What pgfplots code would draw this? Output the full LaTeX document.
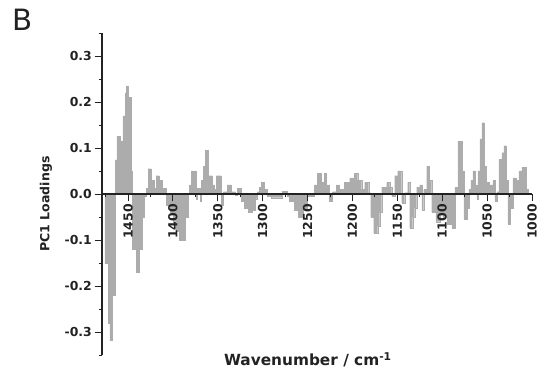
\documentclass[border=0pt]{standalone}
\usepackage{pgfplots}
\pgfplotsset{compat=1.18}
\usepackage{pgfplotstable}
\usepackage{fontspec}
\setmainfont{DejaVu Sans}
\definecolor{barcol}{RGB}{172,172,172}
\definecolor{txt}{RGB}{34,34,34}
\pgfplotstableread{
w v
1004.5 0.01
1006.7 0.058
1011.2 0.05
1014.5 0.03
1017.9 0.035
1021.2 -0.03
1024.6 -0.065
1026.8 0.03
1029.0 0.105
1031.3 0.09
1033.5 0.075
1036.9 0.005
1039.1 -0.015
1041.3 0.03
1043.6 0.02
1048.0 0.025
1051.4 0.06
1053.6 0.155
1055.8 0.12
1058.1 0.05
1060.3 -0.01
1061.4 0.02
1063.7 0.05
1065.9 0.03
1068.1 0.01
1070.4 -0.03
1072.6 -0.055
1075.9 0.05
1078.2 0.115
1082.6 0.015
1086.0 -0.075
1089.3 -0.065
1094.9 -0.05
1099.4 -0.04
1102.7 -0.06
1107.2 -0.04
1111.7 0.03
1115.0 0.06
1117.3 0.01
1120.6 -0.035
1122.8 0.02
1125.1 0.015
1128.4 -0.03
1130.7 -0.05
1132.9 -0.075
1136.2 0.025
1138.5 0.003
1141.8 -0.02
1145.2 0.05
1149.6 0.04
1153.0 -0.005
1156.3 0.015
1158.6 0.025
1161.9 0.015
1167.5 -0.04
1169.7 -0.07
1172.0 -0.085
1176.4 -0.05
1179.8 0.003
1182.0 0.025
1186.5 0.01
1189.8 0.03
1194.3 0.045
1197.7 0.035
1203.2 0.025
1208.8 0.01
1214.4 0.02
1217.8 0.005
1222.2 -0.015
1225.6 0.02
1228.9 0.045
1231.1 0.025
1234.5 0.045
1239.0 0.02
1242.3 -0.005
1250.1 -0.03
1254.6 -0.05
1260.2 -0.035
1264.6 -0.015
1270.2 -0.005
1272.5 0.006
1278.0 -0.008
1290.3 -0.005
1294.8 0.01
1298.1 0.025
1301.5 0.015
1303.7 0.005
1306.0 -0.01
1308.2 -0.035
1311.5 -0.04
1316.0 -0.03
1320.5 -0.015
1323.8 0.012
1328.3 -0.003
1330.5 0.005
1335.0 0.02
1339.5 0.005
1343.9 -0.025
1346.2 0.04
1351.7 0.01
1354.0 0.02
1356.2 0.04
1360.7 0.095
1364.0 0.06
1366.3 0.03
1368.5 -0.015
1369.6 0.012
1373.0 -0.01
1374.1 0.05
1379.7 0.02
1381.9 0
1383.0 -0.05
1386.4 -0.10
1393.1 -0.08
1396.4 -0.06
1399.8 -0.04
1403.1 -0.025
1407.6 0.012
1412.0 0.03
1415.4 0.04
1418.7 0.012
1421.0 0.03
1424.3 0.055
1427.7 0.012
1429.9 -0.005
1432.1 -0.05
1434.4 -0.12
1437.7 -0.17
1441.1 -0.12
1445.5 0.05
1446.6 0.21
1450.0 0.235
1452.2 0.22
1453.3 0.17
1455.6 0.114
1458.9 0.125
1462.3 0.074
1464.5 -0.22
1467.9 -0.317
1470.1 -0.28
1472.3 -0.15
1475.7 0
}\loadings
\begin{document}
\begin{tikzpicture}
\begin{axis}[
  scale only axis,
  width=322.5pt, height=241.5pt,
  x dir=reverse,
  xmin=1000, xmax=1479,
  ymin=-0.35, ymax=0.35,
  axis x line=middle,
  axis y line=left,
  axis line style={-, color=txt, line width=0.8pt},
  axis on top,
  hide obscured x ticks=false,
  hide obscured y ticks=false,
  tick align=outside,
  major tick length=5.5pt,
  minor tick length=2.5pt,
  every tick/.style={color=txt, line width=0.7pt},
  xtick={1000,1050,...,1450},
  minor xtick={1025,1075,...,1475},
  ytick={-0.3,-0.2,-0.1,0,0.1,0.2,0.3},
  yticklabels={-0.3,-0.2,-0.1,0.0,0.1,0.2,0.3},
  minor ytick={-0.35,-0.25,-0.15,-0.05,0.05,0.15,0.25,0.35},
  xticklabel style={rotate=90, anchor=east, font=\bfseries\fontsize{9.3}{11}\selectfont, text=txt, inner sep=2pt},
  yticklabel style={font=\bfseries\fontsize{9.3}{11}\selectfont, text=txt, inner sep=2pt},
  /pgf/number format/assume math mode=true,
  /pgf/number format/1000 sep={},
  xlabel={Wavenumber / cm\textsuperscript{-1}},
  xlabel style={at={(axis description cs:0.479,-0.034)}, anchor=base, font=\bfseries\fontsize{11.5}{13}\selectfont, text=txt},
  ylabel={PC1 Loadings},
  ylabel style={at={(axis description cs:-0.13,0.469)}, anchor=center, font=\bfseries\fontsize{9.4}{11}\selectfont, text=txt},
  clip=false,
]
\addplot[ybar interval, fill=barcol, draw=barcol, line width=0.1pt] table[x=w, y=v] {\loadings};
\coordinate (bl) at (axis description cs:0,0);
\coordinate (tr) at (axis description cs:1,1);
\node[anchor=base west, font=\fontsize{22}{24}\selectfont, text=txt, inner sep=0pt] at (axis description cs:-0.209,1.009) {B};
\end{axis}
\pgfresetboundingbox
\path ([xshift=-76.5pt, yshift=-10.5pt]bl) rectangle ([xshift=6pt, yshift=24.75pt]tr);
\end{tikzpicture}
\end{document}
